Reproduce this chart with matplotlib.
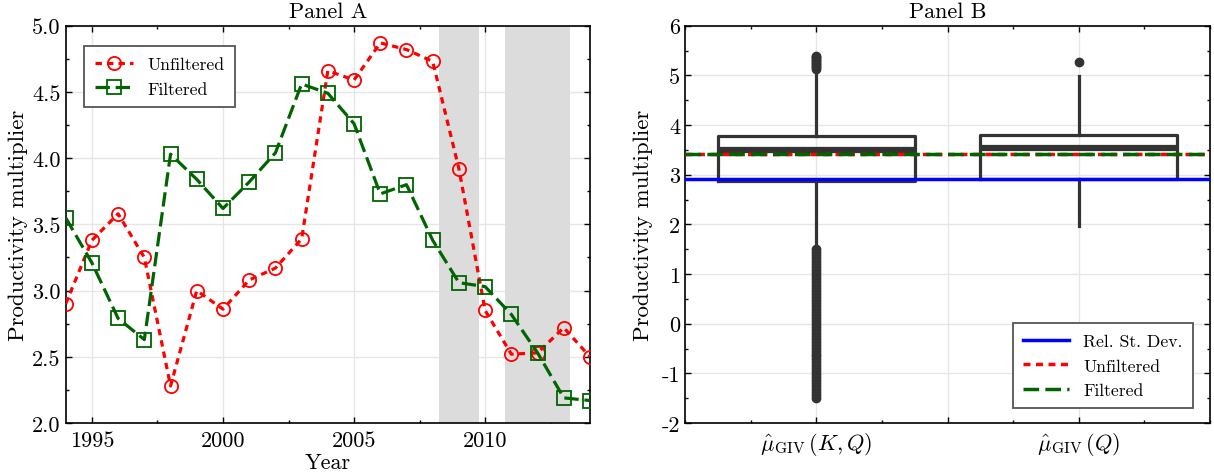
import matplotlib
matplotlib.use("Agg")
import matplotlib.pyplot as plt
from matplotlib.ticker import MultipleLocator, FixedLocator

plt.rcParams['font.family'] = 'serif'
plt.rcParams['font.serif'] = ['cmr10']
plt.rcParams['mathtext.fontset'] = 'cm'
plt.rcParams['axes.formatter.use_mathtext'] = True

# ---- Panel A data ----
years = [1994, 1995, 1996, 1997, 1998, 1999, 2000, 2001, 2002, 2003, 2004,
         2005, 2006, 2007, 2008, 2009, 2010, 2011, 2012, 2013, 2014]
unfiltered = [2.90, 3.38, 3.58, 3.25, 2.28, 3.00, 2.86, 3.08, 3.17, 3.39, 4.66,
              4.59, 4.87, 4.82, 4.73, 3.92, 2.85, 2.52, 2.53, 2.72, 2.50]
filtered = [3.55, 3.21, 2.79, 2.63, 4.03, 3.84, 3.62, 3.82, 4.04, 4.56, 4.49,
            4.26, 3.73, 3.80, 3.38, 3.06, 3.03, 2.82, 2.53, 2.19, 2.17]
recessions = [(2008.25, 2009.75), (2010.75, 2013.25)]
a_yticks = [2.0, 2.5, 3.0, 3.5, 4.0, 4.5, 5.0]
a_xticks = [1995, 2000, 2005, 2010]

# ---- Panel B data ----
box_labels = [r'$\hat{\mu}_{\mathrm{GIV}}\,(K,Q)$', r'$\hat{\mu}_{\mathrm{GIV}}\,(Q)$']
box_q1 = [2.87, 2.91]
box_med = [3.50, 3.54]
box_q3 = [3.77, 3.79]
box_whislo = [1.49, 1.96]
box_whishi = [5.12, 4.98]
fliers_kq = [5.40, 5.37, 5.34, 5.31, 5.28, 5.25, 5.22, 5.19, 5.16, 5.13,
             1.50, 1.44, 1.38, 1.32, 1.26, 1.20, 1.14, 1.08, 1.02, 0.96,
             0.90, 0.84, 0.78, 0.72, 0.66, 0.60, 0.54, 0.48, 0.42, 0.36,
             0.30, 0.24, 0.18, 0.12, 0.06, 0.00, -0.06, -0.12, -0.18, -0.24,
             -0.30, -0.36, -0.42, -0.48, -0.54, -0.60, -0.66, -0.72, -0.78,
             -0.84, -0.90, -0.96, -1.02, -1.08, -1.14, -1.20, -1.26, -1.32,
             -1.38, -1.44, -1.50]
fliers_q = [5.26]
rel_sd = 2.91
unf_mean = 3.41
fil_mean = 3.41
b_yticks = [-2, -1, 0, 1, 2, 3, 4, 5, 6]
b_yticklabels = ['-2', '-1', '0', '1', '2', '3', '4', '5', '6']

fs = 16
fig = plt.figure(figsize=(12.14, 4.77), dpi=100)
axA = fig.add_axes([0.0541, 0.111, 0.4319, 0.833])
axB = fig.add_axes([0.5643, 0.111, 0.4324, 0.833])

grid_kw = dict(color='#e6e6e6', lw=1.0, zorder=0)

# Panel A
for lo, hi in recessions:
    axA.axvspan(lo, hi, color='#dcdcdc', lw=0, zorder=1)
axA.plot(years, unfiltered, color='red', lw=2.3, dashes=(2, 1.6),
         marker='o', ms=9.5, mfc='none', mew=1.3, label='Unfiltered', zorder=3)
axA.plot(years, filtered, color='#006400', lw=2.3, dashes=(4.5, 1.8),
         marker='s', ms=9.5, mfc='none', mew=1.3, label='Filtered', zorder=3)
axA.set_xlim(1994, 2014)
axA.set_ylim(2.0, 5.0)
axA.set_xticks(a_xticks)
axA.set_xticklabels([str(y) for y in a_xticks])
axA.set_yticks(a_yticks)
axA.set_yticklabels(['%.1f' % v for v in a_yticks])
axA.xaxis.set_minor_locator(MultipleLocator(2.5))
axA.yaxis.set_minor_locator(MultipleLocator(0.25))
axA.grid(True, which='major', **grid_kw)
axA.set_axisbelow(True)
axA.set_title('Panel A', fontsize=fs, pad=6)
axA.set_xlabel('Year', fontsize=fs, labelpad=2)
axA.set_ylabel('Productivity multiplier', fontsize=16.5, labelpad=3)
legA = axA.legend(loc='upper left', bbox_to_anchor=(0.018, 0.97), fontsize=12.7,
                  numpoints=1, handlelength=2.2, fancybox=False, framealpha=1,
                  edgecolor='#555555', borderpad=0.6)
legA.get_frame().set_linewidth(1.3)

# Panel B
stats = []
for i in range(2):
    stats.append(dict(med=box_med[i], q1=box_q1[i], q3=box_q3[i],
                      whislo=box_whislo[i], whishi=box_whishi[i],
                      fliers=[fliers_kq, fliers_q][i]))
bc = '#333333'
axB.bxp(stats, positions=[1, 3], widths=1.5, showcaps=False,
        boxprops=dict(color=bc, lw=2.3),
        whiskerprops=dict(color=bc, lw=2.3),
        medianprops=dict(color=bc, lw=4.5),
        flierprops=dict(marker='o', mfc=bc, mec=bc, ms=6),
        manage_ticks=False, zorder=2)
axB.axhline(rel_sd, color='blue', lw=2.5, label='Rel. St. Dev.', zorder=3)
axB.axhline(unf_mean, color='red', lw=2.5, dashes=(2, 1.6), label='Unfiltered', zorder=3)
axB.axhline(fil_mean, color='#006400', lw=2.5, dashes=(4.5, 1.8), label='Filtered', zorder=3)
axB.set_xlim(0, 4)
axB.set_ylim(-2, 6)
axB.xaxis.set_major_locator(FixedLocator([1, 2, 3]))
axB.set_xticklabels([box_labels[0], '', box_labels[1]], fontsize=fs)
axB.xaxis.set_minor_locator(MultipleLocator(0.5))
axB.set_yticks(b_yticks)
axB.set_yticklabels(b_yticklabels)
axB.yaxis.set_minor_locator(MultipleLocator(0.5))
axB.grid(True, which='major', **grid_kw)
axB.set_axisbelow(True)
axB.set_title('Panel B', fontsize=fs, pad=6)
axB.set_ylabel('Productivity multiplier', fontsize=16.5, labelpad=6)
legB = axB.legend(loc='lower right', bbox_to_anchor=(0.985, 0.015), fontsize=12.7,
                  handlelength=2.6, fancybox=False, framealpha=1,
                  edgecolor='#555555', borderpad=0.6)
legB.get_frame().set_linewidth(1.3)

for ax in (axA, axB):
    ax.tick_params(which='both', direction='in', top=True, right=True,
                   labelsize=fs, width=1.0)
    ax.tick_params(which='major', length=4)
    ax.tick_params(which='minor', length=2.5)
    ax.tick_params(axis='x', pad=5)
    for s in ax.spines.values():
        s.set_linewidth(1.2)

fig.savefig('out.png', dpi=100)
